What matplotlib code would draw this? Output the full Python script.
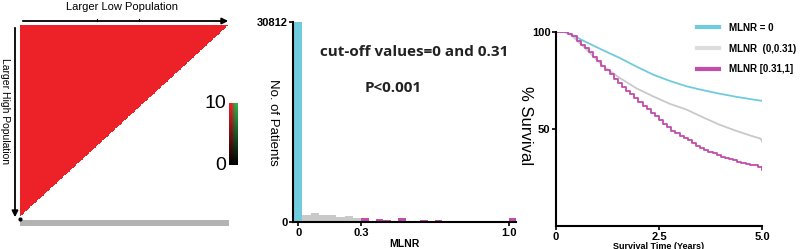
import numpy as np
import matplotlib
matplotlib.use("Agg")
import matplotlib.pyplot as plt
from matplotlib.colors import LinearSegmentedColormap

plt.rcParams["font.family"] = ["Liberation Sans", "DejaVu Sans"]

W, H = 800, 249

# ---- data ----
heat_n = 160
heat_value = 10
cbar_ticks = [0, 10]

hist_zero_count = 30812
gray_edges = [0.02, 0.06, 0.10, 0.14, 0.18, 0.22, 0.26, 0.30]
gray_counts = [1030, 1390, 1130, 1130, 770, 870, 670]
mag_edges = [0.30, 0.335, 0.37, 0.405, 0.44, 0.475, 0.51, 0.545, 0.58, 0.615,
             0.65, 0.685, 0.72, 0.755, 0.79, 0.825, 0.86, 0.895, 0.93, 0.965, 1.0, 1.035]
mag_counts = [620, 150, 400, 300, 150, 560, 150, 120, 300, 150,
              300, 120, 100, 180, 100, 150, 100, 100, 100, 100, 620]

t_cyan = [0, 0.2, 0.34, 0.74, 1.15, 1.55, 1.95, 2.36, 2.76, 3.17, 3.57, 3.97, 4.4, 5.0]
s_cyan = [100, 100, 99, 94.7, 90.5, 86.6, 82.2, 78, 74.8, 72, 70, 68.2, 66.5, 64.5]
t_gray = [0, 0.2, 0.34, 0.74, 1.15, 1.55, 1.95, 2.36, 2.76, 3.17, 3.57, 3.97, 4.38, 4.78, 4.97, 5.0]
s_gray = [100, 100, 99, 91, 82.3, 76.3, 71, 66.8, 63, 60, 56, 52.2, 49, 46.2, 45, 43.6]
t_mag = [0.0, 0.1, 0.2, 0.3, 0.4, 0.5, 0.6, 0.7, 0.8, 0.9, 1.0, 1.1, 1.2, 1.3, 1.4,
         1.5, 1.6, 1.7, 1.8, 1.9, 2.0, 2.1, 2.2, 2.3, 2.4, 2.5, 2.6, 2.7, 2.8, 2.9,
         3.0, 3.1, 3.2, 3.3, 3.4, 3.5, 3.6, 3.7, 3.8, 3.9, 4.0, 4.1, 4.2, 4.3, 4.4,
         4.5, 4.6, 4.7, 4.8, 4.9, 5.0]
s_mag = [100, 100, 100, 99, 97.8, 95.5, 93.5, 91.8, 89.7, 87.3, 84.9, 82.6, 80.3, 78.1, 76,
         73.9, 71.9, 69.8, 67.8, 65.9, 64, 62, 60.1, 58.5, 56.6, 54.6, 52.6, 50.8, 49.2, 47.7,
         46.4, 45.3, 44.1, 42.7, 41.4, 40.1, 39, 38.2, 37.4, 36.6, 35.8, 35, 34.3, 33.8, 33.2,
         32.7, 32.2, 31.7, 31.2, 30.3, 29]
legend_labels = ["MLNR = 0", "MLNR  (0,0.31)", "MLNR [0.31,1]"]

CYAN = "#6FCBDD"
GRAY = "#C9C9C9"
MAG = "#C24DAA"


def box(x0, y0, x1, y1):
    return [x0 / W, 1 - y1 / H, (x1 - x0) / W, (y1 - y0) / H]


fig = plt.figure(figsize=(8, 2.49), dpi=100)

# ---- panel 1: triangular heatmap ----
ax1 = fig.add_axes(box(20, 25, 229, 216))
mat = np.full((heat_n, heat_n), heat_value, dtype=float)
lower = np.fliplr(np.tril(np.ones((heat_n, heat_n)), -1)) > 0
mat = np.ma.masked_where(lower, mat)
red_cmap = LinearSegmentedColormap.from_list("blkred", ["#000000", "#EC2228"])
ax1.imshow(mat, cmap=red_cmap, vmin=0, vmax=10, aspect="auto", interpolation="nearest")
ax1.axis("off")

# overlay for arrows / labels
ov = fig.add_axes([0, 0, 1, 1])
ov.set_xlim(0, W)
ov.set_ylim(H, 0)
ov.axis("off")
ov.annotate("", xy=(231, 21), xytext=(20, 21),
            arrowprops=dict(arrowstyle="-|>", color="black", lw=1.3, mutation_scale=9))
ov.plot([97, 97], [19, 21], color="black", lw=0.8)
ov.plot([139, 139], [19, 21], color="black", lw=0.8)
ov.annotate("", xy=(15, 220), xytext=(15, 25),
            arrowprops=dict(arrowstyle="-|>", color="black", lw=1.3, mutation_scale=9))
ov.plot([20], [219], marker="o", color="black", ms=2)
ov.add_patch(plt.Rectangle((20, 220), 209, 6, color="#B3B3B3", lw=0))
ov.text(122, 7, "Larger Low Population", ha="center", va="center", fontsize=8)
ov.text(5, 111, "Larger High Population", ha="center", va="center", rotation=270,
        fontsize=7.5)
ov.text(226, 103, "10", ha="right", va="center", fontsize=14)
ov.text(226, 165, "0", ha="right", va="center", fontsize=14)

# colorbar
axc = fig.add_axes(box(229, 103, 238, 165))
grad = np.linspace(1, 0, 50)
red_g = np.array([red_cmap(v) for v in grad])
green_cmap = LinearSegmentedColormap.from_list("blkgrn", ["#000000", "#2DB34A"])
green_g = np.array([green_cmap(v) for v in grad])
axc.imshow(np.stack([red_g, green_g], axis=1), aspect="auto", interpolation="bilinear")
axc.axis("off")

# ---- panel 2: histogram ----
ax2 = fig.add_axes(box(293, 22, 516, 222))
ax2.bar(0, hist_zero_count, width=0.04, color=CYAN, align="center")
ax2.bar(gray_edges[:-1], gray_counts, width=np.diff(gray_edges), align="edge", color=GRAY)
ax2.bar(mag_edges[:-1], mag_counts, width=np.diff(mag_edges), align="edge", color=MAG)
ax2.set_xlim(-0.025, 1.035)
ax2.set_ylim(0, hist_zero_count)
ax2.set_yticks([0, hist_zero_count])
ax2.set_xticks([0, 0.3, 1.0])
ax2.set_xticklabels(["0", "0.3", "1.0"])
for s in ["top", "right"]:
    ax2.spines[s].set_visible(False)
for s in ["left", "bottom"]:
    ax2.spines[s].set_linewidth(1.5)
ax2.tick_params(labelsize=8, width=1.2, length=3, pad=1)
for lab in ax2.get_xticklabels() + ax2.get_yticklabels():
    lab.set_fontweight("bold")
ax2.set_xlabel("MLNR", fontsize=7.5, fontweight="bold", labelpad=1)
ax2.set_ylabel("No. of Patients", fontsize=9.5, rotation=270, va="center", ha="center")
ax2.yaxis.set_label_coords(-0.09, 0.5)
fig.text(414 / W, 1 - 52 / H, "cut-off values=0 and 0.31", ha="center", va="center",
         fontsize=11, fontweight="bold", color="#222222", family="Open Sans")
fig.text(393 / W, 1 - 88 / H, "P<0.001", ha="center", va="center",
         fontsize=11, fontweight="bold", color="#222222", family="Open Sans")

# ---- panel 3: survival curves ----
ax3 = fig.add_axes(box(556, 32, 762, 226))
ax3.plot(t_cyan, s_cyan, color=CYAN, lw=1.3)
ax3.plot(t_gray, s_gray, color=GRAY, lw=1.3)
ax3.plot(t_mag, s_mag, color=MAG, lw=1.3, drawstyle="steps-post")
ax3.set_xlim(0, 5)
ax3.set_ylim(0, 100)
ax3.set_xticks([0, 2.5, 5.0])
ax3.set_xticklabels(["0", "2.5", "5.0"])
ax3.set_yticks([50, 100])
for s in ["top", "right"]:
    ax3.spines[s].set_visible(False)
for s in ["left", "bottom"]:
    ax3.spines[s].set_linewidth(1.5)
ax3.tick_params(labelsize=8, width=1.2, length=3, pad=1)
for lab in ax3.get_xticklabels() + ax3.get_yticklabels():
    lab.set_fontweight("bold")
ax3.set_xlabel("Survival Time (Years)", fontsize=6.5, fontweight="bold", labelpad=0)
ax3.set_ylabel("% Survival", fontsize=12, rotation=270, va="center", ha="center")
ax3.yaxis.set_label_coords(-0.15, 0.52)

h1 = plt.Line2D([], [], color=CYAN, lw=3)
h2 = plt.Line2D([], [], color="#DDDDDD", lw=3)
h3 = plt.Line2D([], [], color=MAG, lw=3)
leg = fig.legend([h1, h2, h3], legend_labels, loc="upper left",
                 bbox_to_anchor=(692 / W, 1 - 18 / H), frameon=False,
                 prop=dict(size=7, weight="bold"), handlelength=2.3,
                 handletextpad=1.0, labelspacing=1.1, borderpad=0)

fig.savefig("out.png", dpi=100)
